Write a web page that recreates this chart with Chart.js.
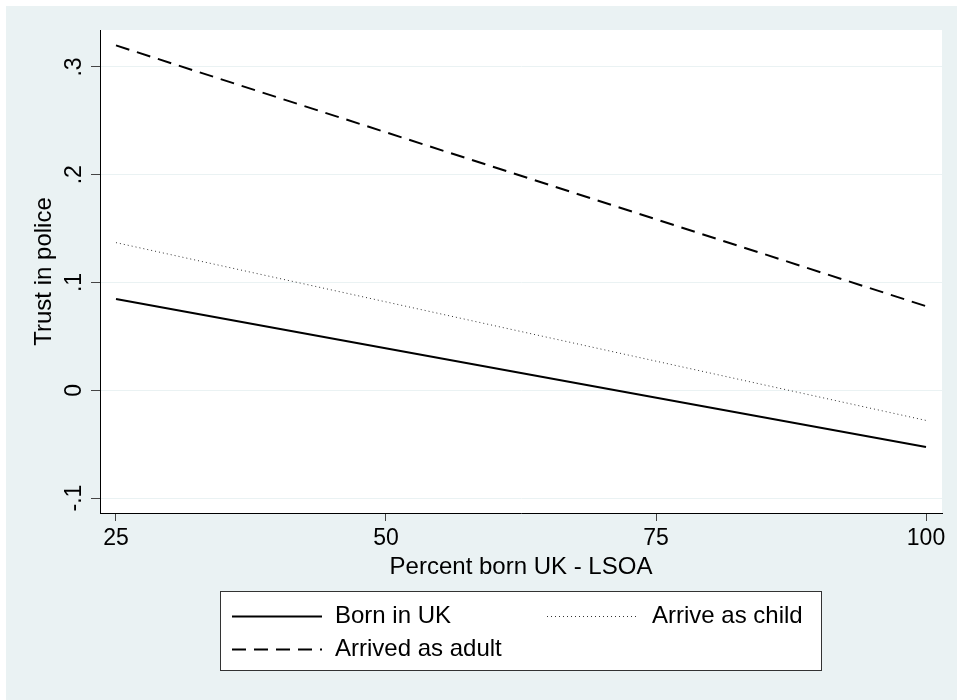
<!DOCTYPE html>
<html>
<head>
<meta charset="utf-8">
<script src="https://cdn.jsdelivr.net/npm/chart.js@4.4.0/dist/chart.umd.min.js"></script>
<style>
  html, body { margin: 0; padding: 0; background: #fff; }
  #wrap { width: 957px; height: 700px; }
</style>
</head>
<body>
<div id="wrap"><canvas id="myChart" width="957" height="700"></canvas></div>
<script>
// data (fitted lines, two end points each)
const percentBorn = [25, 100];
const bornInUK = [0.0847, -0.0526];
const arriveChild = [0.137, -0.028];
const arrivedAdult = [0.320, 0.078];

const xTicks = [25, 50, 75, 100];
const yTicks = [-0.1, 0, 0.1, 0.2, 0.3];
const yTickLabels = ['-.1', '0', '.1', '.2', '.3'];

const bg = '#EAF2F3';
const fontFam = '"Liberation Sans", Arial, Helvetica, sans-serif';

function pts(ys) {
    return percentBorn.map((x, i) => ({ x: x, y: ys[i] }));
}

const backgroundPlugin = {
    id: 'fondo',
    beforeDraw(chart) {
        const ctx = chart.ctx;
        const a = chart.chartArea;
        ctx.save();
        ctx.fillStyle = '#fff';
        ctx.fillRect(0, 0, chart.width, chart.height);
        ctx.fillStyle = bg;
        ctx.fillRect(6, 6, chart.width - 6, chart.height - 6);
        ctx.fillStyle = '#fff';
        ctx.fillRect(a.left, a.top, a.right - a.left, a.bottom - a.top);
        ctx.restore();
    }
};

// y tick labels are rotated in the original, chart.js won't rotate y ticks
const yLabelsPlugin = {
    id: 'yLabels',
    afterDraw(chart) {
        const ctx = chart.ctx;
        const y = chart.scales.y;
        ctx.save();
        ctx.fillStyle = '#000';
        ctx.font = '23px ' + fontFam;
        ctx.textAlign = 'center';
        ctx.textBaseline = 'alphabetic';
        yTicks.forEach((v, i) => {
            const py = y.getPixelForValue(v);
            ctx.save();
            ctx.translate(81, py);
            ctx.rotate(-Math.PI / 2);
            ctx.fillText(yTickLabels[i], 0, 0);
            ctx.restore();
        });
        ctx.restore();
    }
};

// stata style legend box below the plot
const legendPlugin = {
    id: 'cajaLeyenda',
    afterDraw(chart) {
        const ctx = chart.ctx;
        const ds = chart.data.datasets;
        const box = { x: 220, y: 591, w: 602, h: 80 };
        ctx.save();
        ctx.fillStyle = '#fff';
        ctx.fillRect(box.x, box.y, box.w, box.h);
        ctx.strokeStyle = '#333';
        ctx.lineWidth = 1;
        ctx.strokeRect(box.x + 0.5, box.y + 0.5, box.w - 1, box.h - 1);

        const items = [
            { d: ds[0], lx: 232, ly: 616, tx: 335 },
            { d: ds[1], lx: 547, ly: 616, tx: 652 },
            { d: ds[2], lx: 232, ly: 649, tx: 335 }
        ];
        ctx.font = '24px ' + fontFam;
        ctx.textBaseline = 'middle';
        items.forEach(it => {
            ctx.beginPath();
            ctx.strokeStyle = it.d.borderColor;
            ctx.lineWidth = it.d.borderWidth;
            ctx.setLineDash(it.d.borderDash || []);
            ctx.moveTo(it.lx, it.ly + 0.5);
            ctx.lineTo(it.lx + 90, it.ly + 0.5);
            ctx.stroke();
            ctx.setLineDash([]);
            ctx.fillStyle = '#000';
            ctx.fillText(it.d.label, it.tx, it.ly);
        });
        ctx.restore();
    }
};

const config = {
    type: 'line',
    data: {
        datasets: [
            {
                label: 'Born in UK',
                data: pts(bornInUK),
                borderColor: '#000',
                borderWidth: 2,
                pointRadius: 0
            },
            {
                label: 'Arrive as child',
                data: pts(arriveChild),
                borderColor: '#333',
                borderWidth: 1,
                borderDash: [1, 3],
                pointRadius: 0
            },
            {
                label: 'Arrived as adult',
                data: pts(arrivedAdult),
                borderColor: '#000',
                borderWidth: 2,
                borderDash: [14, 8],
                pointRadius: 0
            }
        ]
    },
    options: {
        responsive: false,
        animation: false,
        layout: { padding: { top: 30, right: 15, left: 0, bottom: 117 } },
        plugins: {
            legend: { display: false },
            tooltip: { enabled: false }
        },
        scales: {
            x: {
                type: 'linear',
                min: 23.52,
                max: 101.48,
                afterBuildTicks: s => { s.ticks = xTicks.map(v => ({ value: v })); },
                afterFit: s => { s.height = 70; },
                grid: {
                    drawOnChartArea: false,
                    drawTicks: true,
                    tickLength: 8,
                    tickColor: '#444'
                },
                border: { display: true, color: '#000', width: 1 },
                ticks: {
                    color: '#000',
                    padding: 4,
                    maxRotation: 0,
                    font: { family: fontFam, size: 23 }
                },
                title: {
                    display: true,
                    text: 'Percent born UK - LSOA',
                    color: '#000',
                    padding: { top: 0, bottom: 1 },
                    font: { family: fontFam, size: 24 }
                }
            },
            y: {
                type: 'linear',
                min: -0.1139,
                max: 0.3343,
                afterBuildTicks: s => { s.ticks = yTicks.map(v => ({ value: v })); },
                afterFit: s => { s.width = 100; },
                grid: {
                    color: bg,
                    lineWidth: 1,
                    drawTicks: true,
                    tickLength: 9,
                    tickColor: '#444'
                },
                border: { display: true, color: '#000', width: 1 },
                ticks: { display: false },
                title: {
                    display: true,
                    text: 'Trust in police',
                    color: '#000',
                    padding: { top: 30, bottom: 0 },
                    font: { family: fontFam, size: 24 }
                }
            }
        }
    },
    plugins: [backgroundPlugin, yLabelsPlugin, legendPlugin]
};

const chartDOM = document.getElementById('myChart');
const chart = new Chart(chartDOM, config);
</script>
</body>
</html>
